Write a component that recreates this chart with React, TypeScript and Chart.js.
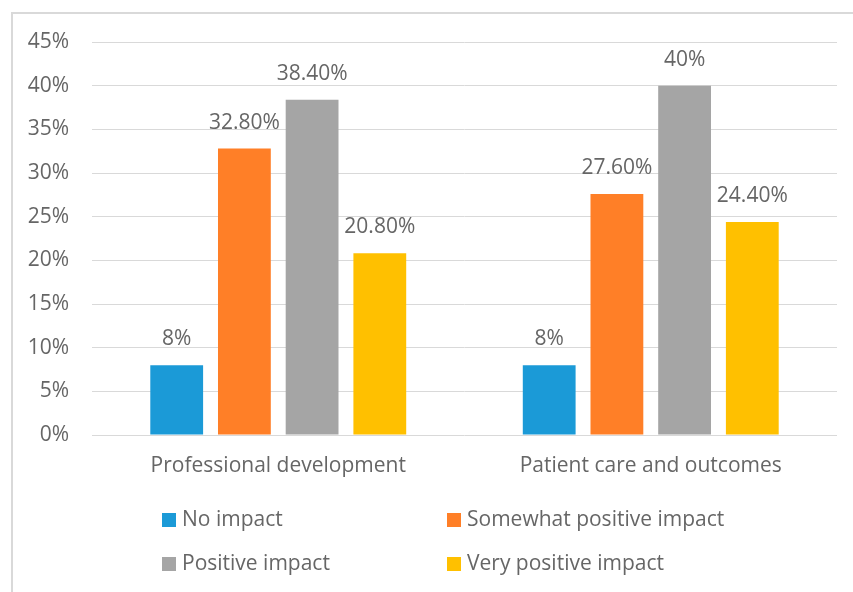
import React, { useEffect, useRef } from "react";
import { Chart, registerables } from "chart.js";

Chart.register(...registerables);

const categories = ["Professional development", "Patient care and outcomes"];
const seriesNames = ["No impact", "Somewhat positive impact", "Positive impact", "Very positive impact"];
const noImpact = [8, 8];
const somewhatPositive = [32.8, 27.6];
const positive = [38.4, 40];
const veryPositive = [20.8, 24.4];
const valueLabels = [
  ["8%", "8%"],
  ["32.80%", "27.60%"],
  ["38.40%", "40%"],
  ["20.80%", "24.40%"],
];
const colors = ["#1B9AD7", "#FF7F27", "#A5A5A5", "#FFC000"];
const FONT = "'Open Sans', sans-serif";
const TEXT = "#666666";
const FS = 21;

const labelPlugin = {
  id: "valueLabels",
  afterDatasetsDraw(chart: any) {
    const ctx = chart.ctx;
    ctx.save();
    ctx.font = `${FS}px ${FONT}`;
    ctx.fillStyle = TEXT;
    ctx.textAlign = "center";
    ctx.textBaseline = "middle";
    chart.data.datasets.forEach((ds: any, i: number) => {
      const meta = chart.getDatasetMeta(i);
      meta.data.forEach((bar: any, j: number) => {
        ctx.fillText(valueLabels[i][j], bar.x, bar.y - 26);
      });
    });
    ctx.restore();
  },
};

const legendPlugin = {
  id: "gridLegend",
  afterDraw(chart: any) {
    const ctx = chart.ctx;
    ctx.save();
    ctx.font = `${FS}px ${FONT}`;
    ctx.textBaseline = "middle";
    ctx.textAlign = "left";
    const colX = [162, 447];
    const rowY = [520, 564];
    chart.data.datasets.forEach((ds: any, i: number) => {
      const x = colX[i % 2];
      const y = rowY[Math.floor(i / 2)];
      ctx.fillStyle = ds.backgroundColor;
      ctx.fillRect(x, y - 7, 14, 14);
      ctx.fillStyle = TEXT;
      ctx.fillText(ds.label, x + 20, y);
    });
    ctx.restore();
  },
};

export default function App() {
  const ref = useRef<HTMLCanvasElement>(null);
  useEffect(() => {
    const data = [noImpact, somewhatPositive, positive, veryPositive];
    const chart = new Chart(ref.current!, {
      type: "bar",
      data: {
        labels: categories,
        datasets: seriesNames.map((n, i) => ({
          label: n,
          data: data[i],
          backgroundColor: colors[i],
          borderWidth: 0,
          categoryPercentage: 0.727,
          barPercentage: 0.78,
        })),
      },
      options: {
        animation: false,
        responsive: false,
        maintainAspectRatio: false,
        layout: { padding: { top: 42, left: 0, right: 16, bottom: 0 } },
        plugins: { legend: { display: false }, tooltip: { enabled: false } },
        scales: {
          x: {
            grid: { display: false, drawTicks: false },
            border: { display: false },
            ticks: { color: TEXT, font: { family: FONT, size: FS }, padding: 18 },
            afterFit: (s: any) => { s.height = 157; },
          },
          y: {
            min: 0,
            max: 45,
            ticks: {
              stepSize: 5,
              color: TEXT,
              font: { family: FONT, size: FS },
              padding: 23,
              callback: (v: any) => v + "%",
            },
            grid: { color: "#d9d9d9", lineWidth: 1, drawTicks: false },
            border: { display: false },
            afterFit: (s: any) => { s.width = 92; },
          },
        },
      },
      plugins: [labelPlugin, legendPlugin],
    });
    return () => chart.destroy();
  }, []);
  return (
    <div style={{ position: "fixed", left: 0, top: 0, width: 853, height: 592, background: "#fff" }}>
      <div style={{ position: "absolute", left: 11, top: 12, width: 850, height: 600, border: "2px solid #d9d9d9", boxSizing: "border-box" }} />
      <canvas ref={ref} width={853} height={592} style={{ position: "absolute", left: 0, top: 0 }} />
    </div>
  );
}
